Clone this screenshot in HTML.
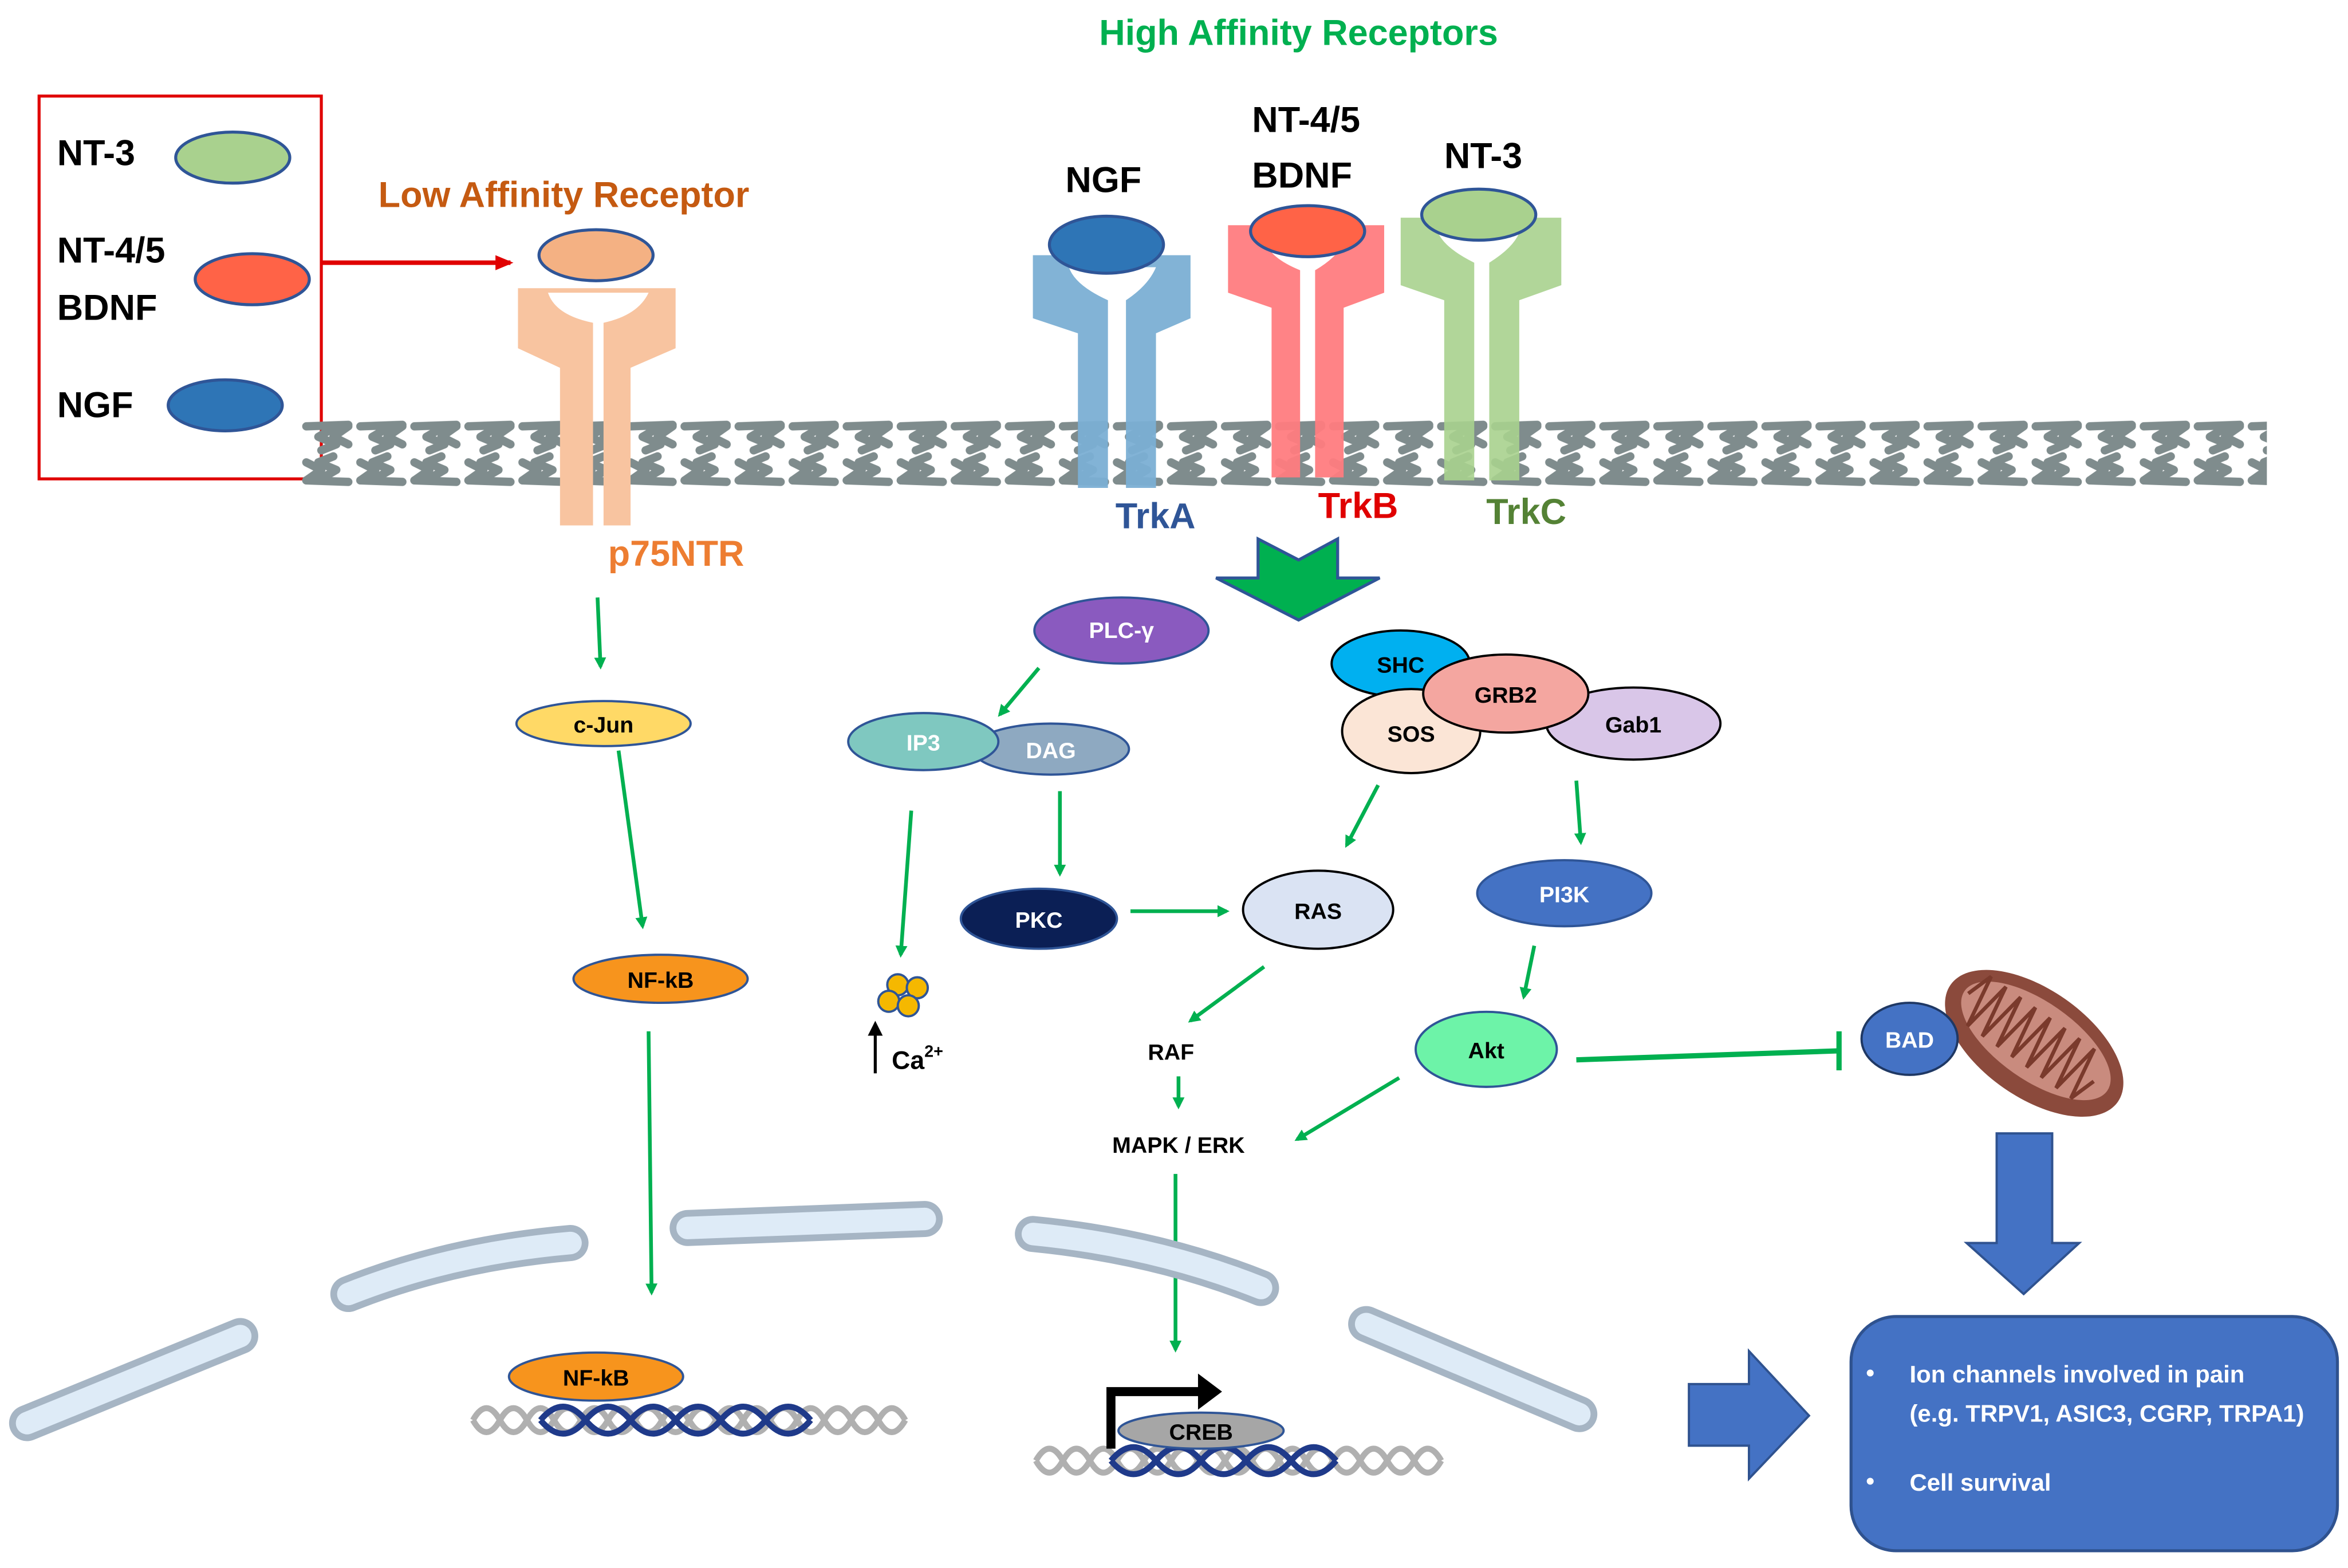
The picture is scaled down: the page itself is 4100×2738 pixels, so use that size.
<!DOCTYPE html>
<html><head><meta charset="utf-8"><style>
html,body{margin:0;padding:0;background:#fff;}
svg{display:block;}
text{font-family:"Liberation Sans",sans-serif;font-weight:bold;}
</style></head><body>
<svg width="4100" height="2738" viewBox="0 0 1564 1044.5" xmlns="http://www.w3.org/2000/svg">
<defs>
<pattern id="mem" width="36" height="48" patternUnits="userSpaceOnUse" patternTransform="translate(200,278)">
<g fill="none" stroke="#7F8C8D" stroke-width="5.5" stroke-linecap="round" stroke-linejoin="round">
<path d="M4,6 L32,5"/>
<path d="M24,6 L12,13 L24,18 L14,22"/>
<path d="M32,6 L22,13 L32,18"/>
<path d="M4,42 L32,43"/>
<path d="M12,42 L24,35 L12,30 L22,26"/>
<path d="M4,42 L14,35 L4,30"/>
</g>
</pattern>
<marker id="ga" markerWidth="8" markerHeight="8" refX="6" refY="4" orient="auto" markerUnits="userSpaceOnUse"><path d="M0,0 L8,4 L0,8 z" fill="#00B050"/></marker>
<marker id="ra" markerWidth="12" markerHeight="10" refX="10" refY="5" orient="auto" markerUnits="userSpaceOnUse"><path d="M0,0 L12,5 L0,10 z" fill="#E00000"/></marker>
<marker id="ba" markerWidth="10" markerHeight="10" refX="8" refY="5" orient="auto" markerUnits="userSpaceOnUse"><path d="M0,0 L10,5 L0,10 z" fill="#000"/></marker>
</defs>
<rect width="1564" height="1045" fill="#fff"/>
<text x="865" y="30" text-anchor="middle" font-size="24" fill="#00B050">High  Affinity Receptors</text>

<!-- legend -->
<rect x="26" y="64" width="188" height="255" fill="none" stroke="#E00000" stroke-width="2"/>
<text x="38" y="110" font-size="24">NT-3</text>
<ellipse cx="155" cy="105" rx="38" ry="17" fill="#A9D18E" stroke="#2F5597" stroke-width="2"/>
<text x="38" y="175" font-size="24">NT-4/5</text>
<text x="38" y="213" font-size="24">BDNF</text>
<ellipse cx="168" cy="186" rx="38" ry="17" fill="#FF6347" stroke="#2F5597" stroke-width="2"/>
<text x="38" y="278" font-size="24">NGF</text>
<ellipse cx="150" cy="270" rx="38" ry="17" fill="#2E75B6" stroke="#2F5597" stroke-width="2"/>
<line x1="214" y1="175" x2="340" y2="175" stroke="#E00000" stroke-width="3" marker-end="url(#ra)"/>
<text x="252" y="138" font-size="24" fill="#C55A11">Low  Affinity Receptor</text>

<!-- membrane -->
<rect x="200" y="278" width="1310" height="48" fill="url(#mem)"/>

<!-- p75 -->
<path d="M345,192 L450,192 L450,232 L420,245 L420,350 L402,350 L402,215 Q425,210 432,195 L365,195 Q370,210 395,215 L395,350 L373,350 L373,245 L345,232 Z" fill="#F8C4A0"/>
<ellipse cx="397" cy="170" rx="38" ry="17" fill="#F4B183" stroke="#2F5597" stroke-width="2"/>
<text x="405" y="377" font-size="24" fill="#ED7D31">p75NTR</text>

<!-- TrkA -->
<path d="M688,170 L793,170 L793,212 L770,222 L770,325 L750,325 L750,200 Q765,190 770,178 L712,178 Q716,190 738,200 L738,325 L718,325 L718,222 L688,212 Z" fill="#7BAFD4" opacity="0.95"/>
<ellipse cx="737" cy="163" rx="38" ry="19" fill="#2E75B6" stroke="#2F5597" stroke-width="2"/>
<text x="735" y="128" text-anchor="middle" font-size="24">NGF</text>
<text x="743" y="352" font-size="24" fill="#2F5597">TrkA</text>

<!-- TrkB -->
<path d="M818,150 L922,150 L922,195 L895,205 L895,318 L876,318 L876,180 Q890,172 897,160 L842,160 Q846,172 866,180 L866,318 L847,318 L847,205 L818,195 Z" fill="#FF7C80" opacity="0.95"/>
<ellipse cx="871" cy="154" rx="38" ry="17" fill="#FF6347" stroke="#2F5597" stroke-width="2"/>
<text x="834" y="88" font-size="24">NT-4/5</text>
<text x="834" y="125" font-size="24">BDNF</text>
<text x="878" y="345" font-size="24" fill="#E00000">TrkB</text>

<!-- TrkC -->
<path d="M933,145 L1040,145 L1040,190 L1012,200 L1012,320 L992,320 L992,175 Q1008,165 1012,155 L958,155 Q962,165 982,175 L982,320 L962,320 L962,200 L933,190 Z" fill="#A9D18E" opacity="0.9"/>
<ellipse cx="985" cy="143" rx="38" ry="17" fill="#A9D18E" stroke="#2F5597" stroke-width="2"/>
<text x="962" y="112" font-size="24">NT-3</text>
<text x="990" y="349" font-size="24" fill="#548235">TrkC</text>

<!-- green arrow -->
<polygon points="838,359 865,373 891,359 891,385 919,385 865,413 810,385 838,385" fill="#00B050" stroke="#2F5597" stroke-width="2" stroke-linejoin="miter"/>

<!-- nodes -->
<g font-size="15" text-anchor="middle">
<ellipse cx="747" cy="420" rx="58" ry="22" fill="#8A5ABF" stroke="#2F5597" stroke-width="1.5"/>
<text x="747" y="425" fill="#fff">PLC-γ</text>
<ellipse cx="700" cy="499" rx="52" ry="17" fill="#8EA9C1" stroke="#2F5597" stroke-width="1.5"/>
<text x="700" y="505" fill="#fff" font-weight="normal">DAG</text>
<ellipse cx="615" cy="494" rx="50" ry="19" fill="#7FC8C0" stroke="#2F5597" stroke-width="1.5"/>
<text x="615" y="500" fill="#fff">IP3</text>
<ellipse cx="692" cy="612" rx="52" ry="20" fill="#0B1F55" stroke="#2F5597" stroke-width="1.5"/>
<text x="692" y="618" fill="#fff">PKC</text>
<ellipse cx="878" cy="606" rx="50" ry="26" fill="#DAE3F3" stroke="#000" stroke-width="1.5"/>
<text x="878" y="612">RAS</text>
<ellipse cx="933" cy="442" rx="46" ry="22" fill="#00B0F0" stroke="#000" stroke-width="1.5"/>
<text x="933" y="448">SHC</text>
<ellipse cx="940" cy="487" rx="46" ry="28" fill="#FBE5D6" stroke="#000" stroke-width="1.5"/>
<text x="940" y="494">SOS</text>
<ellipse cx="1088" cy="482" rx="58" ry="24" fill="#D9C6E8" stroke="#000" stroke-width="1.5"/>
<text x="1088" y="488">Gab1</text>
<ellipse cx="1003" cy="462" rx="55" ry="26" fill="#F4A6A0" stroke="#000" stroke-width="1.5"/>
<text x="1003" y="468">GRB2</text>
<ellipse cx="1042" cy="595" rx="58" ry="22" fill="#4472C4" stroke="#2F5597" stroke-width="1.5"/>
<text x="1042" y="601" fill="#fff">PI3K</text>
<ellipse cx="990" cy="699" rx="47" ry="25" fill="#6DF3A8" stroke="#2F5597" stroke-width="1.5"/>
<text x="990" y="705">Akt</text>
<ellipse cx="402" cy="482" rx="58" ry="15" fill="#FFD966" stroke="#2F5597" stroke-width="1.5"/>
<text x="402" y="488">c-Jun</text>
<ellipse cx="440" cy="652" rx="58" ry="16" fill="#F7941D" stroke="#2F5597" stroke-width="1.5"/>
<text x="440" y="658">NF-kB</text>
<text x="780" y="706">RAF</text>
<text x="785" y="768">MAPK / ERK</text>
</g>

<!-- mitochondrion -->
<g transform="rotate(35 1355 695)">
<ellipse cx="1355" cy="695" rx="68" ry="36" fill="#8B4A3C"/>
<ellipse cx="1355" cy="693" rx="58" ry="26" fill="#C98B7E"/>
<path d="M1300,693 l6,-18 l6,36 l6,-36 l6,36 l6,-36 l6,36 l6,-36 l6,36 l6,-36 l6,36 l6,-36 l6,36 l6,-36 l6,36 l6,-36 l6,36 l6,-18" fill="none" stroke="#7A3A2C" stroke-width="2.5"/>
</g>
<ellipse cx="1272" cy="692" rx="32" ry="24" fill="#4472C4" stroke="#1F3864" stroke-width="1.5"/>
<text x="1272" y="698" text-anchor="middle" font-size="15" fill="#fff">BAD</text>

<!-- Ca -->
<g fill="#F5B800" stroke="#2F5597" stroke-width="1.5">
<circle cx="598" cy="656" r="7"/><circle cx="611" cy="658" r="7"/><circle cx="592" cy="667" r="7"/><circle cx="605" cy="670" r="7"/>
</g>
<line x1="583" y1="715" x2="583" y2="682" stroke="#000" stroke-width="2" marker-end="url(#ba)"/>
<text x="594" y="712" font-size="17">Ca<tspan font-size="11" dy="-8">2+</tspan></text>

<!-- arrows -->
<g stroke="#00B050" stroke-width="2.5" marker-end="url(#ga)">
<line x1="398" y1="398" x2="400" y2="444"/>
<line x1="412" y1="500" x2="428" y2="617"/>
<line x1="432" y1="687" x2="434" y2="861"/>
<line x1="692" y1="445" x2="666" y2="476"/>
<line x1="607" y1="540" x2="600" y2="636"/>
<line x1="706" y1="527" x2="706" y2="582"/>
<line x1="753" y1="607" x2="817" y2="607"/>
<line x1="918" y1="523" x2="897" y2="563"/>
<line x1="1050" y1="520" x2="1053" y2="561"/>
<line x1="1022" y1="630" x2="1015" y2="664"/>
<line x1="842" y1="644" x2="793" y2="680"/>
<line x1="785" y1="717" x2="785" y2="737"/>
<line x1="932" y1="718" x2="864" y2="759"/>
<line x1="783" y1="782" x2="783" y2="899"/>
</g>
<line x1="1050" y1="706" x2="1225" y2="700" stroke="#00B050" stroke-width="3.5"/>
<line x1="1225" y1="687" x2="1225" y2="713" stroke="#00B050" stroke-width="3.5"/>

<!-- nucleus -->
<g stroke-linecap="round" fill="none">
<g stroke="#A6B5C4" stroke-width="24">
<line x1="18" y1="948" x2="160" y2="890"/>
<path d="M232,862 Q300,835 380,828"/>
<line x1="458" y1="818" x2="616" y2="812"/>
<path d="M688,822 Q770,830 840,858"/>
<line x1="910" y1="882" x2="1052" y2="942"/>
</g>
<g stroke="#DEEBF7" stroke-width="15">
<line x1="18" y1="948" x2="160" y2="890"/>
<path d="M232,862 Q300,835 380,828"/>
<line x1="458" y1="818" x2="616" y2="812"/>
<path d="M688,822 Q770,830 840,858"/>
<line x1="910" y1="882" x2="1052" y2="942"/>
</g>
</g>

<!-- DNA 1 -->
<g fill="none" stroke-width="4">
<path d="M315,946 q9,-16 18,0 t18,0 t18,0 t18,0 t18,0 t18,0 t18,0 t18,0 t18,0 t18,0 t18,0 t18,0 t18,0 t18,0 t18,0 t18,0" stroke="#B0B0B0"/>
<path d="M315,946 q9,16 18,0 t18,0 t18,0 t18,0 t18,0 t18,0 t18,0 t18,0 t18,0 t18,0 t18,0 t18,0 t18,0 t18,0 t18,0 t18,0" stroke="#B0B0B0"/>
<path d="M360,946 q15,-18 30,0 t30,0 t30,0 t30,0 t30,0 t30,0" stroke="#1F3A8A"/>
<path d="M360,946 q15,18 30,0 t30,0 t30,0 t30,0 t30,0 t30,0" stroke="#1F3A8A"/>
</g>
<ellipse cx="397" cy="917" rx="58" ry="16" fill="#F7941D" stroke="#2F5597" stroke-width="1.5"/>
<text x="397" y="923" text-anchor="middle" font-size="15">NF-kB</text>

<!-- DNA 2 -->
<g fill="none" stroke-width="4">
<path d="M690,973 q9,-16 18,0 t18,0 t18,0 t18,0 t18,0 t18,0 t18,0 t18,0 t18,0 t18,0 t18,0 t18,0 t18,0 t18,0 t18,0" stroke="#B0B0B0"/>
<path d="M690,973 q9,16 18,0 t18,0 t18,0 t18,0 t18,0 t18,0 t18,0 t18,0 t18,0 t18,0 t18,0 t18,0 t18,0 t18,0 t18,0" stroke="#B0B0B0"/>
<path d="M740,973 q15,-18 30,0 t30,0 t30,0 t30,0 t30,0" stroke="#1F3A8A"/>
<path d="M740,973 q15,18 30,0 t30,0 t30,0 t30,0 t30,0" stroke="#1F3A8A"/>
</g>
<ellipse cx="800" cy="953" rx="55" ry="12" fill="#A6A6A6" stroke="#2F5597" stroke-width="1.5"/>
<text x="800" y="959" text-anchor="middle" font-size="15">CREB</text>
<path d="M740,965 L740,927 L800,927" fill="none" stroke="#000" stroke-width="6"/>
<polygon points="798,915 814,927 798,939" fill="#000"/>

<!-- blue arrows -->
<polygon points="1125,922 1165,922 1165,900 1205,943 1165,985 1165,963 1125,963" fill="#4472C4" stroke="#2F528F" stroke-width="1.5"/>
<polygon points="1330,755 1367,755 1367,828 1385,828 1348,862 1310,828 1330,828" fill="#4472C4" stroke="#2F528F" stroke-width="1.5"/>

<rect x="1233" y="877" width="324" height="156" rx="30" fill="#4472C4" stroke="#2F528F" stroke-width="2"/>
<g fill="#fff" font-size="16">
<text x="1243" y="920">•</text>
<text x="1272" y="921">Ion channels involved in pain</text>
<text x="1272" y="947">(e.g. TRPV1, ASIC3, CGRP, TRPA1)</text>
<text x="1243" y="992">•</text>
<text x="1272" y="993">Cell survival</text>
</g>
</svg>
</body></html>
